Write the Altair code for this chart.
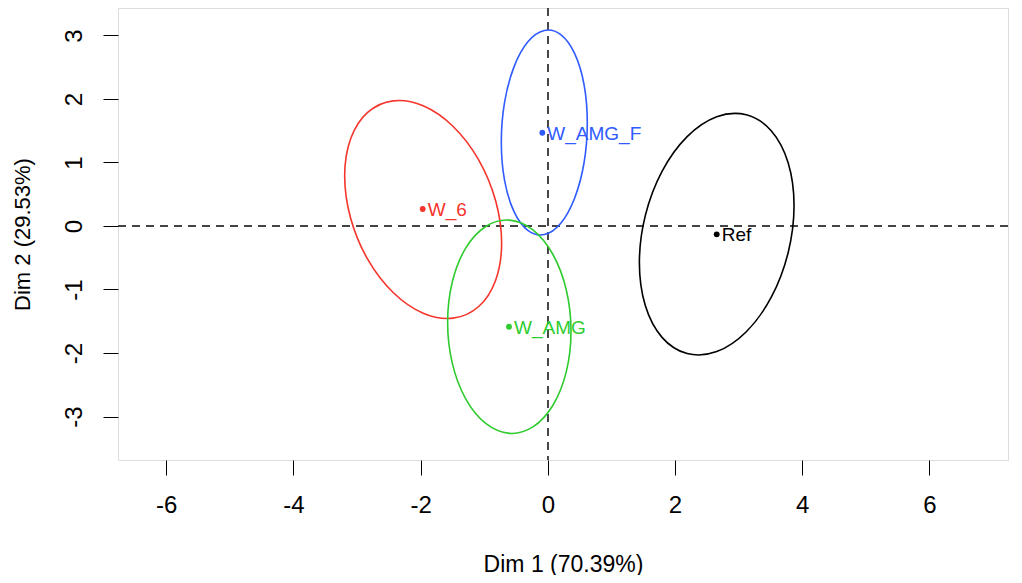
import altair as alt
import pandas as pd

# ---- data ----
groups = ["W_6", "W_AMG_F", "W_AMG", "Ref"]
colors = ["#F5352C", "#2F5BFF", "#2FCB2F", "#000000"]

center_x = [-1.967, -0.086, -0.610, 2.656]
center_y = [0.268, 1.469, -1.586, -0.131]

# ellipse outlines (in data units)
w6_x = [-0.726, -0.820, -1.087, -1.488, -1.960, -2.432, -2.833, -3.100,
        -3.194, -3.100, -2.833, -2.432, -1.960, -1.488, -1.087, -0.820]
w6_y = [-0.268, 0.397, 1.042, 1.567, 1.893, 1.971, 1.788, 1.373,
        0.788, 0.123, -0.522, -1.047, -1.373, -1.451, -1.268, -0.853]

amgf_x = [0.621, 0.570, 0.423, 0.204, -0.055, -0.314, -0.533, -0.680,
          -0.731, -0.680, -0.533, -0.314, -0.055, 0.204, 0.423, 0.570]
amgf_y = [1.622, 2.226, 2.714, 3.014, 3.079, 2.900, 2.502, 1.948,
          1.322, 0.718, 0.230, -0.070, -0.135, 0.044, 0.442, 0.996]

amg_x = [0.365, 0.291, 0.081, -0.234, -0.605, -0.976, -1.291, -1.501,
         -1.575, -1.501, -1.291, -0.976, -0.605, -0.234, 0.081, 0.291]
amg_y = [-1.657, -1.008, -0.449, -0.062, 0.093, -0.008, -0.349, -0.878,
         -1.515, -2.164, -2.723, -3.110, -3.265, -3.164, -2.823, -2.294]

ref_x = [3.872, 3.779, 3.516, 3.121, 2.656, 2.191, 1.796, 1.533,
         1.440, 1.533, 1.796, 2.191, 2.656, 3.121, 3.516, 3.779]
ref_y = [0.321, 0.995, 1.496, 1.751, 1.720, 1.407, 0.860, 0.163,
         -0.579, -1.253, -1.754, -2.009, -1.978, -1.665, -1.118, -0.421]

x_ticks = [-6, -4, -2, 0, 2, 4, 6]
y_ticks = [-3, -2, -1, 0, 1, 2, 3]
x_title = "Dim 1 (70.39%)"
y_title = "Dim 2 (29.53%)"

# ---- tables ----
rows = []
for g, xs, ys in [("W_6", w6_x, w6_y), ("W_AMG_F", amgf_x, amgf_y),
                  ("W_AMG", amg_x, amg_y), ("Ref", ref_x, ref_y)]:
    for i, (a, b) in enumerate(zip(xs, ys)):
        rows.append({"group": g, "i": i, "x": a, "y": b})
ell = pd.DataFrame(rows)
pts = pd.DataFrame({"group": groups, "x": center_x, "y": center_y})

FONT = "Liberation Sans"
xscale = alt.Scale(domain=[-6.758, 7.236], nice=False, zero=False)
yscale = alt.Scale(domain=[-3.685, 3.433], nice=False, zero=False)
cscale = alt.Scale(domain=groups, range=colors)

xaxis = alt.Axis(values=x_ticks, title=x_title, grid=False, domain=False,
                 labelExpr="'' + datum.value",
                 tickSize=15, tickColor="black", tickWidth=1,
                 labelFontSize=24, labelPadding=18, labelColor="black",
                 titleFontSize=23, titlePadding=36, titleColor="black",
                 titleFontWeight="normal", labelFont=FONT, titleFont=FONT)
yaxis = alt.Axis(values=y_ticks, title=y_title, grid=False, domain=False,
                 labelExpr="'' + datum.value",
                 tickSize=15, tickColor="black", tickWidth=1,
                 labelFontSize=24, labelPadding=17, labelColor="black",
                 labelAngle=-90, labelAlign="center", labelBaseline="bottom",
                 titleFontSize=22, titlePadding=28, titleColor="black",
                 titleFontWeight="normal", labelFont=FONT, titleFont=FONT)

ellipses = alt.Chart(ell).mark_line(interpolate="cardinal-closed", strokeWidth=1.6).encode(
    x=alt.X("x:Q", scale=xscale, axis=xaxis),
    y=alt.Y("y:Q", scale=yscale, axis=yaxis),
    color=alt.Color("group:N", scale=cscale, legend=None),
    detail="group:N",
    order="i:Q",
)

vline = alt.Chart(pts).mark_rule(color="#444444", strokeDash=[8, 6], strokeWidth=1.5).encode(
    x=alt.datum(0))
hline = alt.Chart(pts).mark_rule(color="#444444", strokeDash=[8, 6], strokeWidth=1.5).encode(
    y=alt.datum(0))

dots = alt.Chart(pts).mark_circle(size=34, opacity=1).encode(
    x="x:Q", y="y:Q",
    color=alt.Color("group:N", scale=cscale, legend=None),
)
labels = alt.Chart(pts).mark_text(align="left", baseline="middle", dx=5, dy=1,
                                  fontSize=19, font=FONT).encode(
    x="x:Q", y="y:Q", text="group:N",
    color=alt.Color("group:N", scale=cscale, legend=None),
)

chart = alt.layer(vline, hline, ellipses, dots, labels).properties(
    width=890, height=452,
    autosize=alt.AutoSizeParams(type="none"),
    padding={"left": 110, "top": 0, "right": 5, "bottom": 115},
).configure_view(stroke="black", strokeWidth=1.2).configure(background="white")

chart.save("out.html", embed_options={"renderer": "svg", "actions": False})
